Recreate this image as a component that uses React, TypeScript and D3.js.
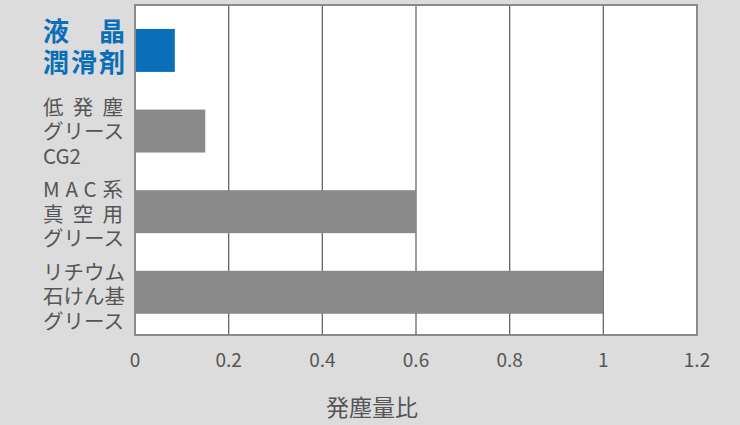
import React from "react";
import { scaleLinear, scaleBand } from "d3";

// 発塵量比 (relative dust generation)
const categories = ["液晶潤滑剤", "低発塵グリースCG2", "MAC系真空用グリース", "リチウム石けん基グリース"];
const values = [0.085, 0.15, 0.6, 1.0];
// label lines; justified lines are stretched to the label width
const labelLines = [
  [{ t: "液晶", j: true }, { t: "潤滑剤", j: true }],
  [{ t: "低発塵", j: true }, { t: "グリース", j: false }, { t: "CG2", j: false }],
  [{ t: "MAC系", j: true }, { t: "真空用", j: true }, { t: "グリース", j: false }],
  [{ t: "リチウム", j: false }, { t: "石けん基", j: false }, { t: "グリース", j: false }],
];
const xTicks = [0, 0.2, 0.4, 0.6, 0.8, 1, 1.2];
const xTitle = "発塵量比";

const W = 740;
const H = 425;
const margin = { top: 5, right: 43, bottom: 90, left: 135 };
const font = "'Noto Sans CJK JP', 'Noto Sans', sans-serif";

export default function App() {
  const x = scaleLinear().domain([0, 1.2]).range([margin.left, W - margin.right]);
  const y = scaleBand()
    .domain(categories)
    .range([margin.top, H - margin.bottom])
    .paddingInner(0.467)
    .paddingOuter(0.28)
    .align(0.53);
  // label rows use the whole band
  const yl = scaleBand().domain(categories).range([margin.top, H - margin.bottom]);

  return (
    <svg width={W} height={H} style={{ position: "absolute", left: 0, top: 0, fontFamily: font }}>
      <rect x={0} y={0} width={W} height={H} fill="#dcdcdc" />
      <rect
        x={margin.left}
        y={margin.top}
        width={x(1.2) - x(0)}
        height={H - margin.bottom - margin.top}
        fill="#ffffff"
      />
      {xTicks.slice(1, -1).map((t) => (
        <line key={t} x1={x(t)} x2={x(t)} y1={margin.top} y2={H - margin.bottom} stroke="#666" strokeWidth={1.3} />
      ))}
      {categories.map((c, i) => (
        <rect
          key={c}
          x={x(0)}
          y={y(c)}
          width={x(values[i]) - x(0)}
          height={y.bandwidth()}
          fill={i === 0 ? "#0a6eb9" : "#898989"}
        />
      ))}
      <rect
        x={margin.left}
        y={margin.top}
        width={x(1.2) - x(0)}
        height={H - margin.bottom - margin.top}
        fill="none"
        stroke="#8a8a8a"
        strokeWidth={2}
      />
      {categories.map((c, i) => {
        const lines = labelLines[i];
        const first = i === 0;
        const size = first ? 26 : 20.5;
        const lh = first ? 31.5 : 24.5;
        const cy = (yl(c) as number) + yl.bandwidth() / 2 + (first ? 1 : 3);
        const top = cy - ((lines.length - 1) * lh) / 2;
        return (
          <g key={c}>
            {lines.map((l, k) => (
              <text
                key={k}
                x={43}
                y={top + k * lh}
                dy="0.36em"
                fontSize={size}
                fontWeight={first ? 700 : 400}
                fill={first ? "#0a6eb9" : "#555"}
                textLength={l.j ? (first ? 82 : 80) : undefined}
                lengthAdjust={l.j ? "spacing" : undefined}
              >
                {l.t}
              </text>
            ))}
          </g>
        );
      })}
      {xTicks.map((t) => (
        <text key={t} x={x(t)} y={360} dy="0.36em" textAnchor="middle" fontSize={19} fill="#555">
          {t}
        </text>
      ))}
      <text x={372} y={408} dy="0.36em" textAnchor="middle" fontSize={23} fill="#555">
        {xTitle}
      </text>
    </svg>
  );
}
